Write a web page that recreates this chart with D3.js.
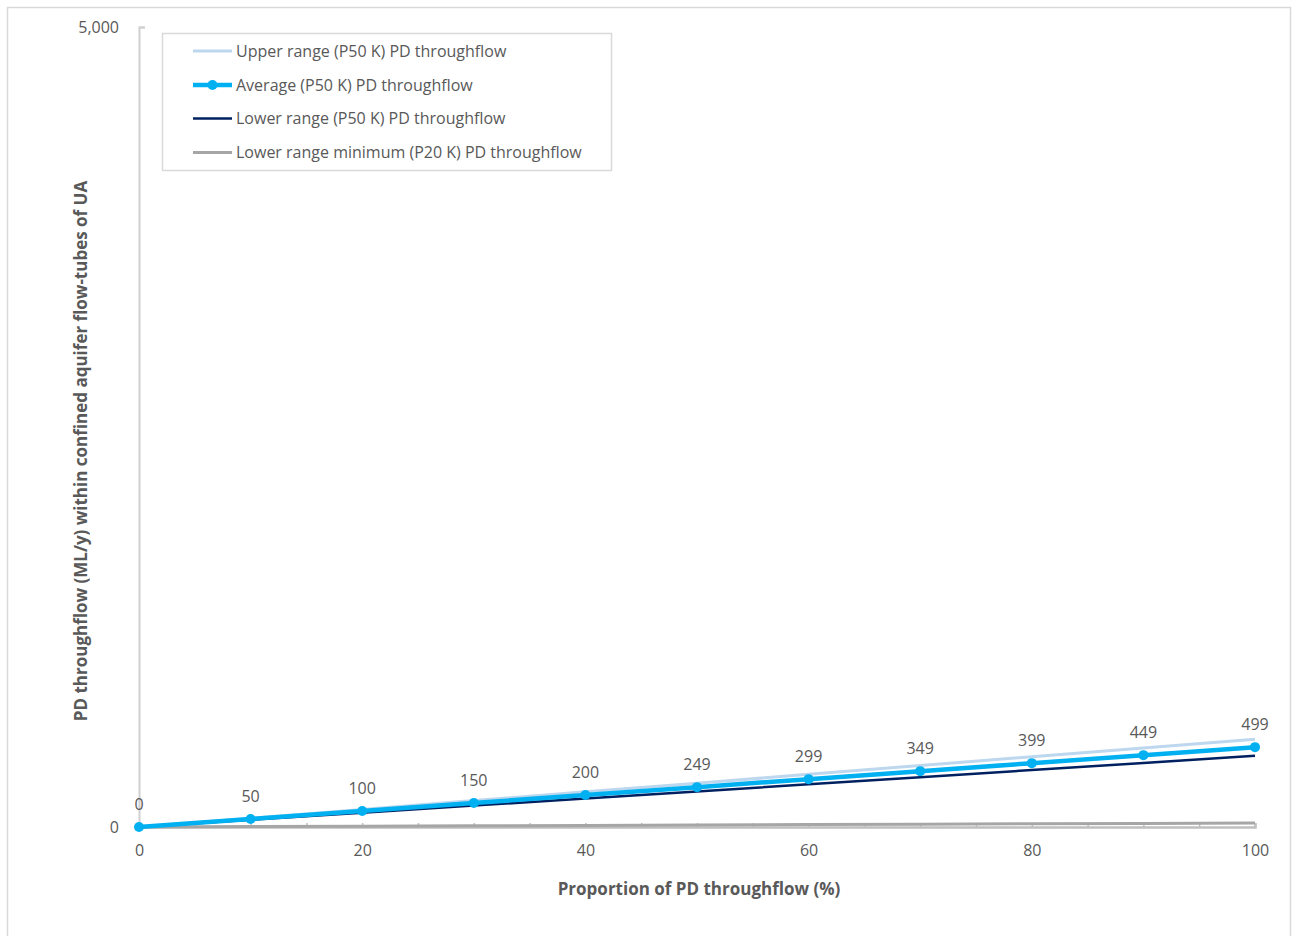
<!DOCTYPE html>
<html><head><meta charset="utf-8">
<script src="https://cdn.jsdelivr.net/npm/d3@7"></script>
<style>
html,body{margin:0;padding:0;background:#fff;}
text{font-family:"Open Sans","Noto Sans",sans-serif;}
</style></head>
<body><svg id="c" width="1292" height="936"></svg>
<script>
const xValues = [0,10,20,30,40,50,60,70,80,90,100];
const averageP50 = [0,50,100,150,200,249,299,349,399,449,499];
const upperP50 = [0,55,110,165,220,274,329,384,439,494,549];
const lowerP50 = [0,45,89,134,178,222,267,311,356,400,445];
const lowerMinP20 = [0,2.5,5,7.5,10,12.5,15,17.5,20,22.5,25];
const xTickLabels = [0,20,40,60,80,100];
const yTickLabels = [0,5000];
const seriesNames = ["Upper range (P50 K) PD throughflow","Average (P50 K) PD throughflow","Lower range (P50 K) PD throughflow","Lower range minimum (P20 K) PD throughflow"];

const svg = d3.select("#c");
const txt = "#595959";
svg.append("rect").attr("x",7.5).attr("y",7.5).attr("width",1283).attr("height",940)
  .attr("fill","none").attr("stroke","#d9d9d9").attr("stroke-width",1.5);

const x = d3.scaleLinear().domain([0,100]).range([139,1255]);
const y = d3.scaleLinear().domain([0,5000]).range([827,27]);

// y axis
const yAxis = svg.append("g").attr("transform","translate(139,0)")
  .call(d3.axisLeft(y).tickValues(yTickLabels).tickSize(-6).tickPadding(20).tickFormat(d3.format(",")));
yAxis.select(".domain").attr("stroke","#d0d0d0").attr("stroke-width",2);
yAxis.selectAll(".tick line").attr("stroke","#d0d0d0").attr("stroke-width",2);
yAxis.selectAll("text").attr("fill",txt).attr("font-size",16).style("font-family",'"Open Sans","Noto Sans",sans-serif');

// x axis
const xAxis = svg.append("g").attr("transform","translate(0,827)")
  .call(d3.axisBottom(x).tickValues(d3.range(0,101,5)).tickSize(-4).tickPadding(18)
    .tickFormat(d => xTickLabels.includes(d) ? d : ""));
xAxis.select(".domain").attr("stroke","#bfbfbf").attr("stroke-width",2.5);
xAxis.selectAll(".tick line").attr("stroke","#bfbfbf").attr("stroke-width",1.5);
xAxis.selectAll("text").attr("fill",txt).attr("font-size",16).style("font-family",'"Open Sans","Noto Sans",sans-serif');

const line = d3.line().x((d,i)=>x(xValues[i])).y(d=>y(d));
svg.append("path").datum(lowerMinP20).attr("d",line).attr("fill","none").attr("stroke","#a6a6a6").attr("stroke-width",3);
svg.append("path").datum(upperP50).attr("d",line).attr("fill","none").attr("stroke","#bdd7ee").attr("stroke-width",3);
svg.append("path").datum(lowerP50).attr("d",line).attr("fill","none").attr("stroke","#002060").attr("stroke-width",2.5);
svg.append("path").datum(averageP50).attr("d",line).attr("fill","none").attr("stroke","#00b0f0").attr("stroke-width",4.5);
svg.selectAll("circle.m").data(averageP50).enter().append("circle")
  .attr("cx",(d,i)=>x(xValues[i])).attr("cy",d=>y(d)).attr("r",5).attr("fill","#00b0f0");
svg.selectAll("text.lbl").data(averageP50).enter().append("text")
  .attr("x",(d,i)=>x(xValues[i])).attr("y",d=>y(d)-17).attr("text-anchor","middle")
  .attr("fill",txt).attr("font-size",16).text(d=>d);

// axis titles
svg.append("text").attr("x",699).attr("y",895).attr("text-anchor","middle").attr("fill",txt)
  .attr("font-size",17).attr("font-weight","bold").text("Proportion of PD throughflow (%)");
svg.append("text").attr("transform","translate(87,451) rotate(-90)").attr("text-anchor","middle").attr("fill",txt)
  .attr("font-size",17).attr("font-weight","bold").text("PD throughflow (ML/y) within confined aquifer flow-tubes of UA");

// legend
const lg = svg.append("g");
lg.append("rect").attr("x",162.5).attr("y",33.5).attr("width",449).attr("height",137)
  .attr("fill","#fff").attr("stroke","#d9d9d9").attr("stroke-width",1.5);
const lstyles = [
  {c:"#bdd7ee",w:3,m:false},{c:"#00b0f0",w:4.5,m:true},{c:"#002060",w:2.5,m:false},{c:"#a6a6a6",w:3,m:false}];
const ly = [51,85,118.5,152.5];
seriesNames.forEach((n,i)=>{
  lg.append("line").attr("x1",193).attr("x2",232).attr("y1",ly[i]).attr("y2",ly[i])
    .attr("stroke",lstyles[i].c).attr("stroke-width",lstyles[i].w);
  if(lstyles[i].m) lg.append("circle").attr("cx",212.5).attr("cy",ly[i]).attr("r",5).attr("fill",lstyles[i].c);
  lg.append("text").attr("x",236).attr("y",ly[i]).attr("dy","0.35em").attr("fill",txt).attr("font-size",16).text(n);
});
</script></body></html>
